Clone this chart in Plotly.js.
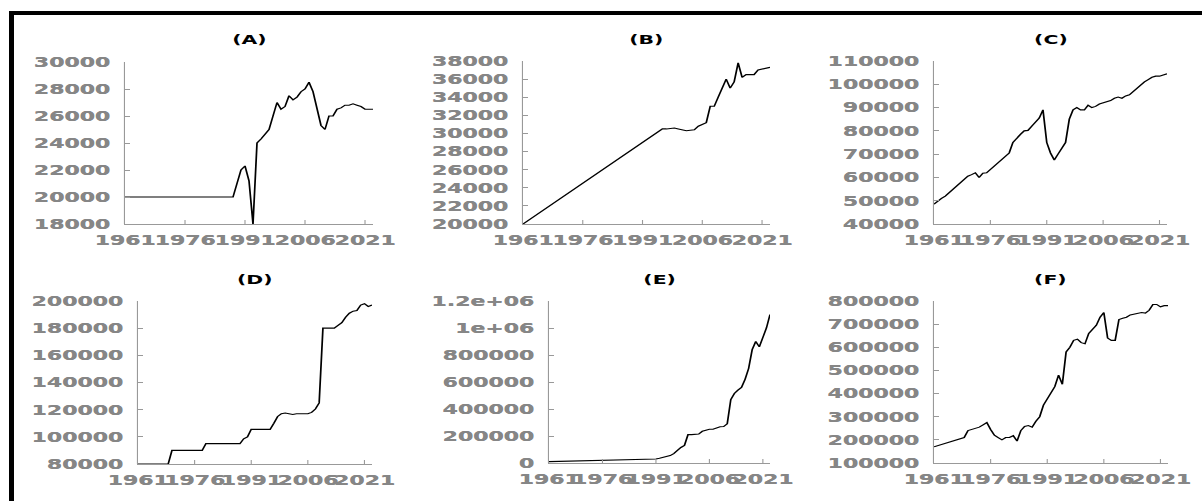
<!DOCTYPE html>
<html>
<head>
<meta charset="utf-8">
<script src="https://cdn.plot.ly/plotly-3.0.1.min.js"></script>
<style>
html,body{margin:0;padding:0;background:#fff;overflow:hidden;}
#wrap{width:1202px;height:501px;overflow:hidden;position:relative;}
#plot{width:766px;height:501px;transform:scaleX(1.5692);transform-origin:0 0;}
</style>
</head>
<body>
<div id="wrap"><div id="plot"></div></div>
<script>
const years = [1961,1962,1963,1964,1965,1966,1967,1968,1969,1970,1971,1972,1973,1974,1975,1976,1977,1978,1979,1980,
1981,1982,1983,1984,1985,1986,1987,1988,1989,1990,1991,1992,1993,1994,1995,1996,1997,1998,1999,2000,
2001,2002,2003,2004,2005,2006,2007,2008,2009,2010,2011,2012,2013,2014,2015,2016,2017,2018,2019,2020,
2021,2022,2023];

const panelTitles = ["(A)","(B)","(C)","(D)","(E)","(F)"];

const seriesA = [20000,20000,20000,20000,20000,20000,20000,20000,20000,20000,
20000,20000,20000,20000,20000,20000,20000,20000,20000,20000,
20000,20000,20000,20000,20000,20000,20000,20000,
21000,22000,22300,21200,18000,24000,24300,24600,25000,26000,27000,26500,
26700,27500,27200,27400,27800,28000,28500,27800,26500,25300,
25000,26000,26000,26500,26600,26800,26800,26900,26800,26700,
26500,26500,26500];

const seriesB = [20000,null,null,null,null,null,null,null,null,null,
null,null,null,null,null,null,null,null,null,null,
null,null,null,null,null,null,null,null,null,null,
null,null,null,null,null,30500,30500,30550,30600,30500,
30400,30300,30350,30400,30800,31000,31200,33000,33000,34000,
35000,36000,35000,35700,37800,36200,36500,36500,36500,37000,
37100,37200,37300];

const seriesC = [48500,50000,51000,52000,53500,55000,56500,57500,59000,60500,
61200,62000,60000,61800,62000,63500,65000,66500,68000,69000,
70500,75000,77000,78500,80000,80200,82000,84000,85500,89000,
75000,70500,67500,70000,72500,75000,85000,89000,90000,89000,
89000,91000,90000,90500,91500,92000,92500,93000,94000,94500,
94000,95000,95500,97000,98500,100000,101000,102000,103000,103500,
103500,104000,104500];

const seriesD = [80000,80000,80000,80000,80000,80000,80000,80000,80000,
90000,90000,90000,90000,90000,90000,90000,90000,90000,
95000,95000,95000,95000,95000,95000,95000,95000,95000,95000,
98500,100000,
105500,105500,105500,105500,105500,105500,
110000,115000,117000,117500,117000,116500,117000,117000,117000,117000,
118000,120500,125000,180000,180000,180000,180000,182000,184000,188000,
191000,192500,193000,197000,198000,196000,197000];

const seriesE = [10000,10500,11000,11500,12000,12500,13000,13500,14000,14500,
15000,16000,17000,18000,19000,20000,21000,22000,23000,24000,
25000,25500,26000,26500,27000,27500,28000,28500,29000,29500,
30000,35000,40000,48000,55000,70000,95000,115000,130000,210000,
210000,210000,215000,235000,245000,250000,250000,260000,268000,270000,
290000,470000,515000,540000,560000,620000,700000,840000,900000,860000,
920000,1000000,1100000];

const seriesF = [170000,175000,180000,185000,190000,195000,200000,205000,210000,
240000,245000,252000,255000,265000,275000,245000,220000,210000,200000,
210000,210000,218000,195000,240000,258000,262000,255000,280000,300000,
350000,380000,400000,430000,480000,440000,580000,600000,630000,635000,
620000,615000,660000,675000,695000,730000,750000,640000,630000,630000,
720000,725000,730000,740000,743000,748000,750000,748000,760000,785000,
785000,775000,780000,780000];

const xTicks = [1961,1976,1991,2006,2021];

const yTicksA = [18000,20000,22000,24000,26000,28000,30000];
const yTicksB = [20000,22000,24000,26000,28000,30000,32000,34000,36000,38000];
const yTicksC = [40000,50000,60000,70000,80000,90000,100000,110000];
const yTicksD = [80000,100000,120000,140000,160000,180000,200000];
const yTicksE = [0,200000,400000,600000,800000,1000000,1200000];
const yTextE = ["0","200000","400000","600000","800000","1e+06","1.2e+06"];
const yTicksF = [100000,200000,300000,400000,500000,600000,700000,800000];

const series = [seriesA,seriesB,seriesC,seriesD,seriesE,seriesF];
const yTicks = [yTicksA,yTicksB,yTicksC,yTicksD,yTicksE,yTicksF];
const yTexts = [null,null,null,null,yTextE,null];

// layout geometry (final pixel boxes)
const W = 1202, H = 501;
const boxes = [
  [125,373,62,224],[523,770,61,224],[934,1167,61,224],
  [138,372,301,464],[549,770,301,463],[934,1168,301,463]
];
const titleY = [39,39,39,279,279,279];

const tickFont = {family:'DejaVu Sans', size:14, color:'#868686', weight:'bold',
  shadow:'0.35px 0 0 #868686'};
const data = [];
const layout = {
  width:766, height:501,
  margin:{l:0,r:0,t:0,b:0},
  paper_bgcolor:'#ffffff', plot_bgcolor:'#ffffff',
  showlegend:false,
  annotations:[], shapes:[]
};

for (let i=0;i<6;i++){
  const n = i+1;
  const xs = n===1?'x':'x'+n, ys = n===1?'y':'y'+n;
  const xk = n===1?'xaxis':'xaxis'+n, yk = n===1?'yaxis':'yaxis'+n;
  data.push({x:years, y:series[i], type:'scatter', mode:'lines', xaxis:xs, yaxis:ys,
    connectgaps:true, line:{color:'#000000', width:1.1}, hoverinfo:'skip'});
  const b = boxes[i];
  const yt = yTicks[i];
  layout[xk] = {domain:[b[0]/W, b[1]/W], anchor:ys, range:[1961,2023],
    showline:true, linecolor:'#999999', linewidth:1, mirror:false,
    ticks:'inside', ticklen:4, tickwidth:0.7, tickcolor:'#999999',
    tickmode:'array', tickvals:xTicks, ticktext:xTicks.map(String), tickangle:0,
    tickfont:tickFont, ticklabelstandoff:3,
    showgrid:false, zeroline:false};
  layout[yk] = {domain:[1-b[3]/H, 1-b[2]/H], anchor:xs, range:[yt[0], yt[yt.length-1]],
    showline:true, linecolor:'#999999', linewidth:0.7,
    ticks:'inside', ticklen:3, tickwidth:1, tickcolor:'#999999',
    tickmode:'array', tickvals:yt, ticktext:(yTexts[i]||yt.map(String)),
    tickfont:tickFont, ticklabelstandoff:6,
    showgrid:false, zeroline:false};
  layout.annotations.push({text:panelTitles[i], xref:xs+' domain', x:0.5, xanchor:'center',
    yref:'paper', y:1-titleY[i]/H, yanchor:'middle', showarrow:false,
    font:{family:'DejaVu Sans', size:13, color:'#000000', weight:'bold'}});
}

// frame bars (top and left)
layout.shapes.push({type:'rect', xref:'paper', yref:'paper', x0:9/W, x1:1, y0:1-15/H, y1:1-11/H,
  fillcolor:'#000000', line:{width:0}});
layout.shapes.push({type:'rect', xref:'paper', yref:'paper', x0:9/W, x1:14/W, y0:0, y1:1-11/H,
  fillcolor:'#000000', line:{width:0}});

Plotly.newPlot('plot', data, layout, {staticPlot:true, displayModeBar:false});
</script>
</body>
</html>
